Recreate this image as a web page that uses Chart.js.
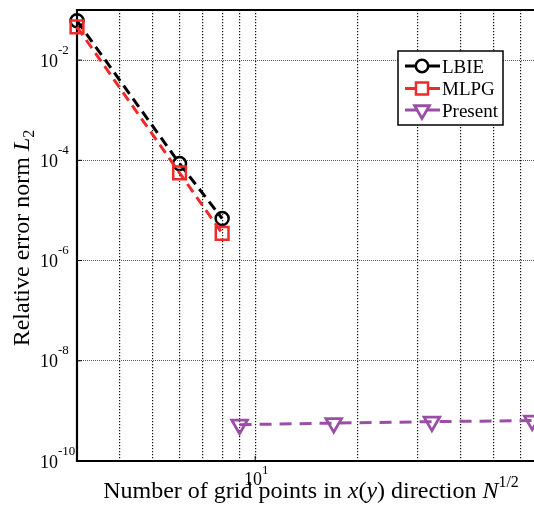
<!DOCTYPE html>
<html>
<head>
<meta charset="utf-8">
<script src="https://cdn.jsdelivr.net/npm/chart.js@4.4.1/dist/chart.umd.min.js"></script>
<style>
    html, body { margin: 0; padding: 0; background: #fff; overflow: hidden; }
    #wrap { width: 534px; height: 516px; position: relative; }
</style>
</head>
<body>
<div id="wrap"><canvas id="errorChart"></canvas></div>
<script>
// Values
const lbieX = [3, 6, 8];
const lbieErr = [6.1e-2, 8.6e-5, 6.9e-6];
const mlpgX = [3, 6, 8];
const mlpgErr = [4.6e-2, 5.6e-5, 3.5e-6];
const presentX = [9, 17, 33, 65];
const presentErr = [5.3e-10, 5.7e-10, 6.1e-10, 6.4e-10];

// grid lines / tick labels
const xGridTicks = [4, 5, 6, 7, 8, 9, 10, 20, 30, 40, 50, 60];
const yGridTicks = [1e-2, 1e-4, 1e-6, 1e-8];
const xLabelExps = [1];
const yLabelExps = [-2, -4, -6, -8, -10];

const legendNames = ['LBIE', 'MLPG', 'Present'];

const serif = '"Liberation Serif", "Times New Roman", serif';
const black = '#000000';
const red = '#ee2a2a';
const purple = '#9b4ea6';

function toPoints(xs, ys) {
    return xs.map((x, i) => ({ x: x, y: ys[i] }));
}

// draw text pieces one after another (for italics / sup / sub)
function runsWidth(ctx, runs) {
    let w = 0;
    runs.forEach((r) => {
        ctx.font = (r.italic ? 'italic ' : '') + r.size + 'px ' + serif;
        w += ctx.measureText(r.t).width;
    });
    return w;
}
function drawRuns(ctx, runs, x, y) {
    let cx = x;
    runs.forEach((r) => {
        ctx.font = (r.italic ? 'italic ' : '') + r.size + 'px ' + serif;
        ctx.fillText(r.t, cx, y + (r.dy || 0));
        cx += ctx.measureText(r.t).width;
    });
    return cx;
}

const decorPlugin = {
    id: 'decor',
    beforeDatasetsDraw(chart) {
        const ctx = chart.ctx;
        const a = chart.chartArea;
        const xs = chart.scales.x;
        const ys = chart.scales.y;
        ctx.save();
        ctx.strokeStyle = '#000';
        ctx.lineWidth = 1;
        // small inward ticks
        ctx.beginPath();
        yGridTicks.forEach((v) => {
            const py = ys.getPixelForValue(v);
            ctx.moveTo(a.left, py);
            ctx.lineTo(a.left + 5, py);
        });
        xLabelExps.forEach((e) => {
            const px = xs.getPixelForValue(Math.pow(10, e));
            ctx.moveTo(px, a.bottom);
            ctx.lineTo(px, a.bottom - 5);
        });
        ctx.stroke();
        // axes box: left, bottom, top (right side falls outside the picture)
        ctx.lineWidth = 2.2;
        ctx.beginPath();
        ctx.moveTo(a.right + 2, a.top);
        ctx.lineTo(a.left, a.top);
        ctx.lineTo(a.left, a.bottom);
        ctx.lineTo(a.right + 2, a.bottom);
        ctx.stroke();
        ctx.restore();
    },
    afterDraw(chart) {
        const ctx = chart.ctx;
        const a = chart.chartArea;
        const xs = chart.scales.x;
        const ys = chart.scales.y;
        ctx.save();
        ctx.fillStyle = '#000';
        ctx.textAlign = 'left';
        ctx.textBaseline = 'alphabetic';

        // y tick labels 10^-n
        yLabelExps.forEach((e) => {
            const py = ys.getPixelForValue(Math.pow(10, e));
            drawRuns(ctx, [
                { t: '10', size: 18 },
                { t: String(e), size: 13, dy: -13 },
            ], 40, py + 6.5);
        });

        // x tick labels 10^n
        xLabelExps.forEach((e) => {
            const px = xs.getPixelForValue(Math.pow(10, e));
            const runs = [{ t: '10', size: 18 }, { t: String(e), size: 13, dy: -11 }];
            const w = runsWidth(ctx, runs);
            drawRuns(ctx, runs, px - w / 2 + 1, a.bottom + 24);
        });

        // x title
        const xt = [
            { t: 'Number of grid points in ', size: 24 },
            { t: 'x', size: 24, italic: true },
            { t: '(', size: 24 },
            { t: 'y', size: 24, italic: true },
            { t: ') direction ', size: 24 },
            { t: 'N', size: 24, italic: true },
            { t: '1/2', size: 16, dy: -11 },
        ];
        const xw = runsWidth(ctx, xt);
        drawRuns(ctx, xt, 311 - xw / 2, 498);

        // y title (rotated)
        const yt = [
            { t: 'Relative error norm ', size: 24 },
            { t: 'L', size: 24, italic: true },
            { t: '2', size: 16, dy: 5 },
        ];
        const yw = runsWidth(ctx, yt);
        ctx.translate(29, 238);
        ctx.rotate(-Math.PI / 2);
        drawRuns(ctx, yt, -yw / 2, 0);
        ctx.setTransform(1, 0, 0, 1, 0, 0);
        ctx.restore();

        // legend box
        ctx.save();
        const bx = 398, by = 51, bw = 105, bh = 74;
        ctx.fillStyle = '#fff';
        ctx.fillRect(bx, by, bw, bh);
        ctx.strokeStyle = '#000';
        ctx.lineWidth = 1.5;
        ctx.strokeRect(bx, by, bw, bh);
        const rowY = [66, 88.5, 110];
        chart.data.datasets.forEach((ds, i) => {
            const y = rowY[i];
            ctx.strokeStyle = ds.borderColor;
            ctx.lineWidth = 3;
            ctx.setLineDash([]);
            ctx.beginPath();
            ctx.moveTo(405, y);
            ctx.lineTo(440, y);
            ctx.stroke();
            ctx.fillStyle = '#fff';
            ctx.lineWidth = ds.pointBorderWidth;
            Chart.helpers.drawPoint(ctx, {
                pointStyle: ds.pointStyle,
                rotation: ds.pointRotation || 0,
                radius: ds.pointRadius * 0.95,
                borderWidth: ds.pointBorderWidth,
            }, 422, y);
            ctx.fillStyle = '#000';
            ctx.font = '19px ' + serif;
            ctx.fillText(legendNames[i], 442, y + 6.5);
        });
        ctx.restore();
    },
};

const ctx = document.getElementById('errorChart').getContext('2d');

const chart = new Chart(ctx, {
    type: 'line',
    data: {
        datasets: [{
            label: legendNames[0],
            data: toPoints(lbieX, lbieErr),
            borderColor: black,
            borderWidth: 3,
            borderDash: [10, 6],
            pointStyle: 'circle',
            pointRadius: 6.5,
            pointBorderWidth: 2.5,
            pointBorderColor: black,
            pointBackgroundColor: 'rgba(0,0,0,0)',
            clip: false,
            order: 3,
        }, {
            label: legendNames[1],
            data: toPoints(mlpgX, mlpgErr),
            borderColor: red,
            borderWidth: 3,
            borderDash: [10, 6],
            pointStyle: 'rect',
            pointRadius: 9,
            pointBorderWidth: 2.5,
            pointBorderColor: red,
            pointBackgroundColor: 'rgba(0,0,0,0)',
            clip: false,
            order: 2,
        }, {
            label: legendNames[2],
            data: toPoints(presentX, presentErr),
            borderColor: purple,
            borderWidth: 3,
            borderDash: [12, 8],
            pointStyle: 'triangle',
            pointRotation: 180,
            pointRadius: 9,
            pointBorderWidth: 2.8,
            pointBorderColor: purple,
            pointBackgroundColor: 'rgba(0,0,0,0)',
            clip: false,
            order: 1,
        }],
    },
    options: {
        responsive: true,
        maintainAspectRatio: false,
        animation: false,
        layout: { autoPadding: false, padding: { top: 10, right: 0, left: 0, bottom: 0 } },
        plugins: {
            legend: { display: false },
            tooltip: { enabled: false },
        },
        elements: { line: { tension: 0 } },
        scales: {
            x: {
                type: 'logarithmic',
                min: 3,
                max: 65.8,
                afterBuildTicks(scale) {
                    scale.ticks = xGridTicks.map((v) => ({ value: v }));
                },
                afterFit(scale) {
                    scale.height = 55;
                },
                ticks: { display: false },
                grid: { color: '#111', lineWidth: 1.2, drawTicks: false },
                border: { display: false, dash: [1.2, 1.8] },
            },
            y: {
                type: 'logarithmic',
                min: 1e-10,
                max: 1e-1,
                afterBuildTicks(scale) {
                    scale.ticks = yGridTicks.map((v) => ({ value: v }));
                },
                afterFit(scale) {
                    scale.width = 77;
                },
                ticks: { display: false },
                grid: { color: '#555', lineWidth: 1, drawTicks: false },
                border: { display: false, dash: [1, 1] },
            },
        },
    },
    plugins: [decorPlugin],
});
</script>
</body>
</html>
